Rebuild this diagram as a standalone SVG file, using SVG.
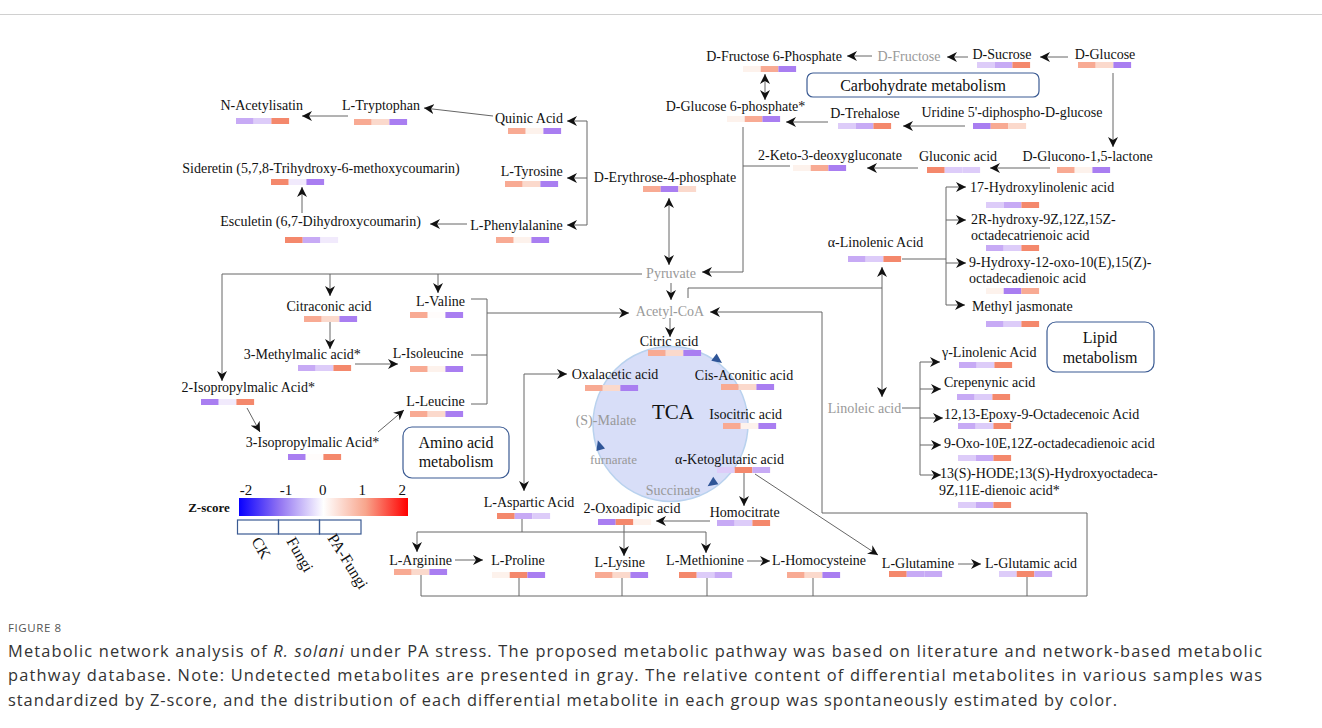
<svg xmlns="http://www.w3.org/2000/svg" width="1322" height="728" viewBox="0 0 1322 728">
<defs>
<style>
.t{font-family:"Liberation Serif","Times New Roman",serif;font-size:14px;fill:#111;text-anchor:middle}
.s{text-anchor:start}
.g{fill:#999}
.c path,.c line{fill:none;stroke:#666;stroke-width:1}
.a{marker-end:url(#ah)}
.b{marker-start:url(#ah);marker-end:url(#ah)}
.o3{fill:#F4886C}.o2{fill:#F8AA93}.o1{fill:#FBD9CC}.w{fill:#FDF2EC}.wh{fill:#FFFCFB}
.p3{fill:#A97EF1}.p2{fill:#C7AAF5}.p1{fill:#DDCCF9}.p0{fill:#F1EAFC}
.box{fill:#fff;stroke:#3B5B93;stroke-width:1.2}
.bx{font-family:"Liberation Serif","Times New Roman",serif;font-size:16px;fill:#111;text-anchor:middle}
.cap{font-family:"Open Sans","Liberation Sans",sans-serif;font-size:16.4px;fill:#333}
.tri{fill:#2F5597}
.lg{font-family:"Liberation Serif","Times New Roman",serif;font-size:16px;fill:#111}
</style>
<marker id="ah" viewBox="0 0 10 10" refX="10" refY="5" markerWidth="10" markerHeight="10" markerUnits="userSpaceOnUse" orient="auto-start-reverse"><path d="M0,0 L10,5 L0,10 L3,5 z" fill="#111"/></marker>
<linearGradient id="zg" x1="0" y1="0" x2="1" y2="0">
<stop offset="0" stop-color="#0800FF"/><stop offset="0.24" stop-color="#9274F2"/><stop offset="0.5" stop-color="#FFFFFF"/><stop offset="0.75" stop-color="#F8A58C"/><stop offset="1" stop-color="#FF0000"/>
</linearGradient>
</defs>
<rect width="1322" height="728" fill="#fff"/>
<line x1="0" y1="14.5" x2="1322" y2="14.5" stroke="#d0d0d0" stroke-width="1"/>

<!-- TCA circle -->
<g id="tca">
<circle cx="670.5" cy="424" r="77.5" fill="#D8DEF8" stroke="#B9D2EE" stroke-width="1.5"/>
<text class="t" x="673" y="419" style="font-size:21px">TCA</text>
<path class="tri" transform="translate(718,360) rotate(36.6)" d="M-5,-4.5 L5,0 L-5,4.5 z"/>
<path class="tri" transform="translate(711.7,483.3) rotate(145.2)" d="M-5,-4.5 L5,0 L-5,4.5 z"/>
<path class="tri" transform="translate(599.3,445) rotate(-106.5)" d="M-5,-4.5 L5,0 L-5,4.5 z"/>
</g>

<g id="connectors" class="c">
<path class="a" d="M872,56 H847"/>
<path class="a" d="M968,57 H947"/>
<path class="a" d="M1068,57 H1040"/>
<path class="a" d="M1113,73 V147"/>
<path class="a" d="M1050,168 H990"/>
<path class="a" d="M918,168 H867"/>
<path class="a" d="M965,126 H903"/>
<path class="a" d="M828,122 H786"/>
<path class="b" d="M765,74 V100"/>
<path d="M790,166 H743"/>
<path class="a" d="M743,127 V272 H702"/>
<path class="b" d="M669,198 V265"/>
<path d="M587,121 V225"/>
<path class="a" d="M587,121 H567"/>
<path class="a" d="M587,178 H567"/>
<path class="a" d="M587,225 H567"/>
<path class="a" d="M493,116 L424,108"/>
<path class="a" d="M348,116 H302"/>
<path class="a" d="M467,224 H430"/>
<path class="a" d="M302,213 V187"/>
<path class="a" d="M642,274 H222 V381"/>
<path class="a" d="M330,274 V296"/>
<path class="a" d="M438,274 V293"/>
<path class="a" d="M671,283 V300"/>
<path d="M688,298 V288 H882"/>
<path class="b" d="M882,267 V397"/>
<path d="M471,299 H487 V404 H471"/>
<path d="M471,355 H487"/>
<path class="a" d="M487,313 H629"/>
<path class="a" d="M355,364 H398"/>
<path class="a" d="M330,321 V349"/>
<path class="a" d="M247,408 L260,432"/>
<path class="a" d="M378,432 L404,410"/>
<path class="a" d="M670,318 V337"/>
<path class="a" d="M1087,596 V513 H822 V312 H710"/>
<path d="M421,575 V596 H1087"/>
<path d="M519,577 V596 M622,577 V596 M707,577 V596 M813,577 V596 M1027,577 V596"/>
<path class="b" d="M524,491 V374 H567"/>
<path d="M522,519 V532 M417,532 H706"/>
<path class="a" d="M417,532 V552"/>
<path class="a" d="M706,532 V553"/>
<path class="a" d="M455,560 H483"/>
<path class="a" d="M624,525 V556"/>
<path class="a" d="M710,521 H656"/>
<path class="a" d="M744,473 V506"/>
<path class="a" d="M755,474 L878,555"/>
<path class="a" d="M747,561 H770"/>
<path class="a" d="M958,564 H981"/>
<path d="M902,259 H946 M946,187 V305"/>
<path class="a" d="M946,187 H966"/>
<path class="a" d="M946,220 H966"/>
<path class="a" d="M946,263 H966"/>
<path class="a" d="M946,305 H965"/>
<path d="M902,408 H920 M920,362 V475"/>
<path class="a" d="M920,362 H940"/>
<path class="a" d="M920,389 H941"/>
<path class="a" d="M920,418 H943"/>
<path class="a" d="M920,445 H941"/>
<path class="a" d="M920,475 H941"/>
</g>

<!-- Carbohydrate -->
<g id="n-dfru6p"><text class="t" x="774" y="61">D-Fructose 6-Phosphate</text>
<g transform="translate(743,66)"><rect class="w" width="17.7" height="6"/><rect class="o2" x="17.7" width="17.7" height="6"/><rect class="p3" x="35.4" width="17.7" height="6"/></g></g>
<g id="n-dfru"><text class="t g" x="909" y="61">D-Fructose</text></g>
<g id="n-dsuc"><text class="t" x="1002" y="59">D-Sucrose</text>
<g transform="translate(977,62)"><rect class="p1" width="17.7" height="6"/><rect class="p2" x="17.7" width="17.7" height="6"/><rect class="o3" x="35.4" width="17.7" height="6"/></g></g>
<g id="n-dglc"><text class="t" x="1105" y="59">D-Glucose</text>
<g transform="translate(1078,62)"><rect class="o2" width="17.7" height="6"/><rect class="o1" x="17.7" width="17.7" height="6"/><rect class="p3" x="35.4" width="17.7" height="6"/></g></g>
<g id="box-carb"><rect class="box" x="807" y="73" width="232" height="24" rx="6"/><text class="bx" x="923" y="91">Carbohydrate metabolism</text></g>
<g id="n-dglc6p"><text class="t" x="735.5" y="111">D-Glucose 6-phosphate*</text>
<g transform="translate(727,116)"><rect class="w" width="17.7" height="6"/><rect class="o2" x="17.7" width="17.7" height="6"/><rect class="p3" x="35.4" width="17.7" height="6"/></g></g>
<g id="n-dtre"><text class="t" x="865" y="118">D-Trehalose</text>
<g transform="translate(838,123)"><rect class="p1" width="17.7" height="6"/><rect class="p2" x="17.7" width="17.7" height="6"/><rect class="o3" x="35.4" width="17.7" height="6"/></g></g>
<g id="n-udpg"><text class="t" x="1012" y="117">Uridine 5'-diphospho-D-glucose</text>
<g transform="translate(973,123)"><rect class="p3" width="17.7" height="6"/><rect class="o2" x="17.7" width="17.7" height="6"/><rect class="o1" x="35.4" width="17.7" height="6"/></g></g>
<g id="n-kdg"><text class="t" x="830" y="160">2-Keto-3-deoxygluconate</text>
<g transform="translate(793,165)"><rect class="w" width="17.7" height="6"/><rect class="o2" x="17.7" width="17.7" height="6"/><rect class="p3" x="35.4" width="17.7" height="6"/></g></g>
<g id="n-glcn"><text class="t" x="958" y="161">Gluconic acid</text>
<g transform="translate(927,167)"><rect class="o3" width="17.7" height="6"/><rect class="p1" x="17.7" width="17.7" height="6"/><rect class="p1" x="35.4" width="17.7" height="6"/></g></g>
<g id="n-glcl"><text class="t" x="1087.5" y="161">D-Glucono-1,5-lactone</text>
<g transform="translate(1057,167)"><rect class="o2" width="17.7" height="6"/><rect class="w" x="17.7" width="17.7" height="6"/><rect class="p3" x="35.4" width="17.7" height="6"/></g></g>

<!-- Shikimate / aromatic -->
<g id="n-nacet"><text class="t" x="261.7" y="110">N-Acetylisatin</text>
<g transform="translate(236,118)"><rect class="p2" width="17.7" height="6"/><rect class="p1" x="17.7" width="17.7" height="6"/><rect class="o3" x="35.4" width="17.7" height="6"/></g></g>
<g id="n-trp"><text class="t" x="381" y="110">L-Tryptophan</text>
<g transform="translate(354,119)"><rect class="o2" width="17.7" height="6"/><rect class="o1" x="17.7" width="17.7" height="6"/><rect class="p3" x="35.4" width="17.7" height="6"/></g></g>
<g id="n-quin"><text class="t" x="529" y="123">Quinic Acid</text>
<g transform="translate(508,128)"><rect class="o2" width="17.7" height="6"/><rect class="w" x="17.7" width="17.7" height="6"/><rect class="p3" x="35.4" width="17.7" height="6"/></g></g>
<g id="n-side"><text class="t" x="321" y="173">Sideretin (5,7,8-Trihydroxy-6-methoxycoumarin)</text>
<g transform="translate(271,179)"><rect class="o3" width="17.7" height="6"/><rect class="p0" x="17.7" width="17.7" height="6"/><rect class="p3" x="35.4" width="17.7" height="6"/></g></g>
<g id="n-tyr"><text class="t" x="531.7" y="176">L-Tyrosine</text>
<g transform="translate(505,181)"><rect class="o2" width="17.7" height="6"/><rect class="o1" x="17.7" width="17.7" height="6"/><rect class="p3" x="35.4" width="17.7" height="6"/></g></g>
<g id="n-e4p"><text class="t" x="665" y="182">D-Erythrose-4-phosphate</text>
<g transform="translate(643,186)"><rect class="o2" width="17.7" height="6"/><rect class="p3" x="17.7" width="17.7" height="6"/><rect class="o1" x="35.4" width="17.7" height="6"/></g></g>
<g id="n-escu"><text class="t" x="320.5" y="226">Esculetin (6,7-Dihydroxycoumarin)</text>
<g transform="translate(285,237)"><rect class="o3" width="17.7" height="6"/><rect class="p2" x="17.7" width="17.7" height="6"/><rect class="p0" x="35.4" width="17.7" height="6"/></g></g>
<g id="n-phe"><text class="t" x="516.5" y="230">L-Phenylalanine</text>
<g transform="translate(496,237)"><rect class="o2" width="17.7" height="6"/><rect class="w" x="17.7" width="17.7" height="6"/><rect class="p3" x="35.4" width="17.7" height="6"/></g></g>

<!-- Central -->
<g id="n-pyr"><text class="t g" x="671" y="278">Pyruvate</text></g>
<g id="n-acoa"><text class="t g" x="670" y="316">Acetyl-CoA</text></g>

<!-- Amino acids left -->
<g id="n-citra"><text class="t" x="329" y="311">Citraconic acid</text>
<g transform="translate(304,316)"><rect class="o2" width="17.7" height="6"/><rect class="o1" x="17.7" width="17.7" height="6"/><rect class="p3" x="35.4" width="17.7" height="6"/></g></g>
<g id="n-val"><text class="t" x="440.5" y="306">L-Valine</text>
<g transform="translate(410,312)"><rect class="o2" width="17.7" height="6"/><rect class="wh" x="17.7" width="17.7" height="6"/><rect class="p3" x="35.4" width="17.7" height="6"/></g></g>
<g id="n-3mm"><text class="t" x="302.3" y="359">3-Methylmalic acid*</text>
<g transform="translate(298,365)"><rect class="p2" width="17.7" height="6"/><rect class="p1" x="17.7" width="17.7" height="6"/><rect class="o3" x="35.4" width="17.7" height="6"/></g></g>
<g id="n-ile"><text class="t" x="428" y="358">L-Isoleucine</text>
<g transform="translate(410,366)"><rect class="o2" width="17.7" height="6"/><rect class="w" x="17.7" width="17.7" height="6"/><rect class="p3" x="35.4" width="17.7" height="6"/></g></g>
<g id="n-2ipm"><text class="t" x="248.3" y="392">2-Isopropylmalic Acid*</text>
<g transform="translate(201,399)"><rect class="p3" width="17.7" height="6"/><rect class="p0" x="17.7" width="17.7" height="6"/><rect class="o3" x="35.4" width="17.7" height="6"/></g></g>
<g id="n-leu"><text class="t" x="435.5" y="406">L-Leucine</text>
<g transform="translate(410,411)"><rect class="o2" width="17.7" height="6"/><rect class="o1" x="17.7" width="17.7" height="6"/><rect class="p3" x="35.4" width="17.7" height="6"/></g></g>
<g id="n-3ipm"><text class="t" x="312.5" y="447">3-Isopropylmalic Acid*</text>
<g transform="translate(288,454)"><rect class="p3" width="17.7" height="6"/><rect class="wh" x="17.7" width="17.7" height="6"/><rect class="o3" x="35.4" width="17.7" height="6"/></g></g>
<g id="box-amino"><rect class="box" x="403" y="427" width="106" height="51" rx="9"/><text class="bx" x="456" y="448">Amino acid</text><text class="bx" x="456" y="467">metabolism</text></g>

<!-- TCA members -->
<g id="n-cit"><text class="t" x="669" y="346">Citric acid</text>
<g transform="translate(648,350)"><rect class="o2" width="17.7" height="6"/><rect class="o1" x="17.7" width="17.7" height="6"/><rect class="p3" x="35.4" width="17.7" height="6"/></g></g>
<g id="n-oaa"><text class="t" x="615" y="379">Oxalacetic acid</text>
<g transform="translate(585,385)"><rect class="o2" width="17.7" height="6"/><rect class="o1" x="17.7" width="17.7" height="6"/><rect class="p3" x="35.4" width="17.7" height="6"/></g></g>
<g id="n-cis"><text class="t" x="744" y="380">Cis-Aconitic acid</text>
<g transform="translate(721,384)"><rect class="o2" width="17.7" height="6"/><rect class="o1" x="17.7" width="17.7" height="6"/><rect class="p3" x="35.4" width="17.7" height="6"/></g></g>
<g id="n-mal"><text class="t g" x="606" y="425">(S)-Malate</text></g>
<g id="n-icit"><text class="t" x="745.7" y="419">Isocitric acid</text>
<g transform="translate(723,423)"><rect class="o2" width="17.7" height="6"/><rect class="w" x="17.7" width="17.7" height="6"/><rect class="p3" x="35.4" width="17.7" height="6"/></g></g>
<g id="n-fum"><text class="t g" x="613.5" y="464" style="font-size:13px">furnarate</text></g>
<g id="n-akg"><text class="t" x="729.5" y="464">α-Ketoglutaric acid</text>
<g transform="translate(717,467)"><rect class="p1" width="17.7" height="6"/><rect class="o3" x="17.7" width="17.7" height="6"/><rect class="p2" x="35.4" width="17.7" height="6"/></g></g>
<g id="n-suc"><text class="t g" x="673" y="495">Succinate</text></g>

<!-- Bottom amino acids -->
<g id="n-asp"><text class="t" x="529" y="507">L-Aspartic Acid</text>
<g transform="translate(497,513)"><rect class="o3" width="17.7" height="6"/><rect class="p2" x="17.7" width="17.7" height="6"/><rect class="p1" x="35.4" width="17.7" height="6"/></g></g>
<g id="n-oxo"><text class="t" x="632" y="513">2-Oxoadipic acid</text>
<g transform="translate(598,519)"><rect class="p3" width="17.7" height="6"/><rect class="o3" x="17.7" width="17.7" height="6"/><rect class="w" x="35.4" width="17.7" height="6"/></g></g>
<g id="n-hcit"><text class="t" x="744.7" y="517">Homocitrate</text>
<g transform="translate(717,520)"><rect class="p2" width="17.7" height="6"/><rect class="p1" x="17.7" width="17.7" height="6"/><rect class="o3" x="35.4" width="17.7" height="6"/></g></g>
<g id="n-arg"><text class="t" x="420.5" y="565">L-Arginine</text>
<g transform="translate(394,569)"><rect class="o2" width="17.7" height="6"/><rect class="o1" x="17.7" width="17.7" height="6"/><rect class="p3" x="35.4" width="17.7" height="6"/></g></g>
<g id="n-pro"><text class="t" x="518" y="565">L-Proline</text>
<g transform="translate(492,572)"><rect class="w" width="17.7" height="6"/><rect class="o3" x="17.7" width="17.7" height="6"/><rect class="p3" x="35.4" width="17.7" height="6"/></g></g>
<g id="n-lys"><text class="t" x="619.7" y="567">L-Lysine</text>
<g transform="translate(595,572)"><rect class="o2" width="17.7" height="6"/><rect class="o1" x="17.7" width="17.7" height="6"/><rect class="p3" x="35.4" width="17.7" height="6"/></g></g>
<g id="n-met"><text class="t" x="705" y="565">L-Methionine</text>
<g transform="translate(679,572)"><rect class="o3" width="17.7" height="6"/><rect class="p1" x="17.7" width="17.7" height="6"/><rect class="p2" x="35.4" width="17.7" height="6"/></g></g>
<g id="n-hcy"><text class="t" x="819" y="565">L-Homocysteine</text>
<g transform="translate(787,572)"><rect class="o2" width="17.7" height="6"/><rect class="o1" x="17.7" width="17.7" height="6"/><rect class="p3" x="35.4" width="17.7" height="6"/></g></g>
<g id="n-gln"><text class="t" x="918" y="568">L-Glutamine</text>
<g transform="translate(889,571)"><rect class="o3" width="17.7" height="6"/><rect class="p2" x="17.7" width="17.7" height="6"/><rect class="p2" x="35.4" width="17.7" height="6"/></g></g>
<g id="n-glu"><text class="t" x="1031" y="568">L-Glutamic acid</text>
<g transform="translate(999,571)"><rect class="p1" width="17.7" height="6"/><rect class="o3" x="17.7" width="17.7" height="6"/><rect class="p2" x="35.4" width="17.7" height="6"/></g></g>

<!-- Lipid -->
<g id="n-ala"><text class="t" x="875.5" y="247">α-Linolenic Acid</text>
<g transform="translate(848,256)"><rect class="p2" width="17.7" height="6"/><rect class="p1" x="17.7" width="17.7" height="6"/><rect class="o3" x="35.4" width="17.7" height="6"/></g></g>
<g id="n-17oh"><text class="t s" x="970" y="192">17-Hydroxylinolenic acid</text>
<g transform="translate(986,202)"><rect class="p1" width="17.7" height="6"/><rect class="p2" x="17.7" width="17.7" height="6"/><rect class="o3" x="35.4" width="17.7" height="6"/></g></g>
<g id="n-2r"><text class="t s" x="971" y="224">2R-hydroxy-9Z,12Z,15Z-</text><text class="t s" x="971" y="240">octadecatrienoic acid</text>
<g transform="translate(986,245)"><rect class="p2" width="17.7" height="6"/><rect class="p1" x="17.7" width="17.7" height="6"/><rect class="o3" x="35.4" width="17.7" height="6"/></g></g>
<g id="n-9oh"><text class="t s" x="969" y="267">9-Hydroxy-12-oxo-10(E),15(Z)-</text><text class="t s" x="969" y="283">octadecadienoic acid</text>
<g transform="translate(986,288)"><rect class="w" width="17.7" height="6"/><rect class="p3" x="17.7" width="17.7" height="6"/><rect class="o2" x="35.4" width="17.7" height="6"/></g></g>
<g id="n-meja"><text class="t s" x="972" y="311">Methyl jasmonate</text>
<g transform="translate(986,321)"><rect class="p2" width="17.7" height="6"/><rect class="p1" x="17.7" width="17.7" height="6"/><rect class="o3" x="35.4" width="17.7" height="6"/></g></g>
<g id="box-lipid"><rect class="box" x="1047" y="322" width="107" height="50" rx="9"/><text class="bx" x="1100" y="343">Lipid</text><text class="bx" x="1100" y="363">metabolism</text></g>
<g id="n-la"><text class="t g" x="864.5" y="413">Linoleic acid</text></g>
<g id="n-gla"><text class="t s" x="942" y="357">γ-Linolenic Acid</text>
<g transform="translate(959,362)"><rect class="p2" width="17.7" height="6"/><rect class="p1" x="17.7" width="17.7" height="6"/><rect class="o3" x="35.4" width="17.7" height="6"/></g></g>
<g id="n-crep"><text class="t s" x="944" y="387">Crepenynic acid</text>
<g transform="translate(957,394)"><rect class="p2" width="17.7" height="6"/><rect class="p1" x="17.7" width="17.7" height="6"/><rect class="o3" x="35.4" width="17.7" height="6"/></g></g>
<g id="n-epoxy"><text class="t s" x="944" y="419">12,13-Epoxy-9-Octadecenoic Acid</text>
<g transform="translate(958,423)"><rect class="p2" width="17.7" height="6"/><rect class="p1" x="17.7" width="17.7" height="6"/><rect class="o3" x="35.4" width="17.7" height="6"/></g></g>
<g id="n-9oxo"><text class="t s" x="944" y="448">9-Oxo-10E,12Z-octadecadienoic acid</text>
<g transform="translate(958,455)"><rect class="p1" width="17.7" height="6"/><rect class="p2" x="17.7" width="17.7" height="6"/><rect class="o3" x="35.4" width="17.7" height="6"/></g></g>
<g id="n-13s"><text class="t s" x="940" y="478">13(S)-HODE;13(S)-Hydroxyoctadeca-</text><text class="t s" x="939" y="495">9Z,11E-dienoic acid*</text>
<g transform="translate(958,502)"><rect class="p1" width="17.7" height="6"/><rect class="p2" x="17.7" width="17.7" height="6"/><rect class="o3" x="35.4" width="17.7" height="6"/></g></g>

<!-- Legend -->
<g id="legend">
<text class="t" x="209" y="512" style="font-weight:bold;font-size:13px">Z-score</text>
<rect x="239" y="498" width="169" height="18" fill="url(#zg)"/>
<text class="t" x="246" y="495" style="font-size:15px">-2</text><text class="t" x="286" y="495" style="font-size:15px">-1</text><text class="t" x="322.7" y="495" style="font-size:15px">0</text><text class="t" x="362.3" y="495" style="font-size:15px">1</text><text class="t" x="402.3" y="495" style="font-size:15px">2</text>
<rect x="237.5" y="520" width="41" height="14" fill="none" stroke="#3B5B93" stroke-width="1.2"/>
<rect x="278.5" y="520" width="41" height="14" fill="none" stroke="#3B5B93" stroke-width="1.2"/>
<rect x="319.5" y="520" width="41.5" height="14" fill="none" stroke="#3B5B93" stroke-width="1.2"/>
<text class="lg" transform="translate(251,541) rotate(60)">CK</text>
<text class="lg" transform="translate(286,541) rotate(60)">Fungi</text>
<text class="lg" transform="translate(327,538) rotate(58)">PA-Fungi</text>
</g>

<!-- Caption -->
<g id="caption">
<text x="8" y="632" style="font-family:'Open Sans','Liberation Sans',sans-serif;font-size:11.5px;fill:#555;letter-spacing:0.6px">FIGURE 8</text>
<text class="cap" x="8" y="657" textLength="1254" lengthAdjust="spacing">Metabolic network analysis of <tspan font-style="italic">R. solani</tspan> under PA stress. The proposed metabolic pathway was based on literature and network-based metabolic</text>
<text class="cap" x="8" y="681" textLength="1254" lengthAdjust="spacing">pathway database. Note: Undetected metabolites are presented in gray. The relative content of differential metabolites in various samples was</text>
<text class="cap" x="8" y="706" textLength="1109" lengthAdjust="spacing">standardized by Z-score, and the distribution of each differential metabolite in each group was spontaneously estimated by color.</text>
</g>
</svg>
